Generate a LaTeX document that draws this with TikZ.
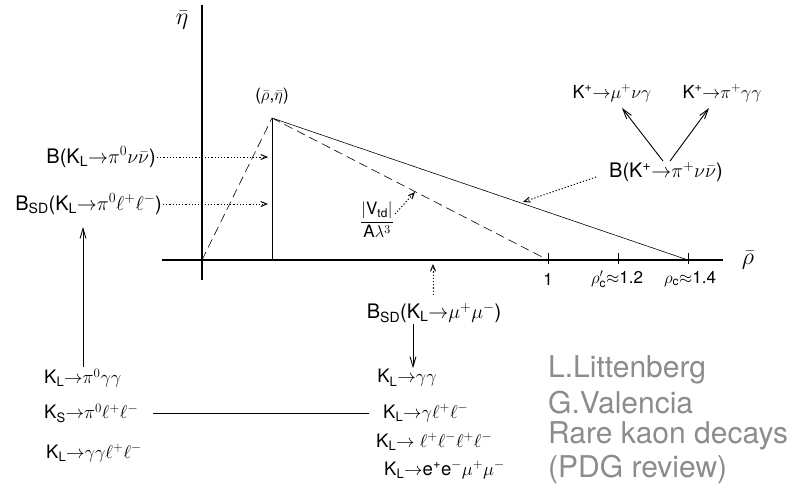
\RequirePackage{fix-cm}
\documentclass[tikz,border=0pt]{standalone}
\usepackage{amsmath}
\usepackage{fontspec}
\setmainfont{TeX Gyre Heros}
\usetikzlibrary{arrows.meta}
\newcommand{\kl}{K\textsubscript{L}}
\newcommand{\ks}{K\textsubscript{S}}
\newcommand{\kp}{K\textsuperscript{+}}
\newcommand{\bsd}{B\textsubscript{SD}}
\newcommand{\dk}{$\rightarrow$}
\begin{document}
\begin{tikzpicture}[x=1pt, y=-1pt,
    lbl/.style={font=\fontsize{20}{22}\selectfont, inner sep=1pt},
    sml/.style={font=\fontsize{18.5}{20}\selectfont, inner sep=1pt},
    tck/.style={font=\fontsize{17}{19}\selectfont, inner sep=1pt},
    ptr/.style={line width=1pt, dash pattern=on 1.2pt off 2pt, -{Straight Barb[length=6pt,width=5pt]}},
    arr/.style={line width=0.9pt, -{Straight Barb[length=10pt,width=6pt]}},
    credit/.style={font=\fontsize{30}{32}\selectfont, text=black!45, anchor=west, inner sep=0pt}]
  \useasboundingbox (0,0) rectangle (808,490);

  % unitarity triangle
  \coordinate (O) at (202,260);
  \coordinate (apex) at (272,118);
  \coordinate (foot) at (272,260);
  \coordinate (one) at (548,260);
  \coordinate (rc1) at (618,260);
  \coordinate (rc) at (688,260);

  \draw[line width=1.3pt] (202,5) -- (202,280);
  \draw[line width=1.8pt] (162,260) -- (723,260);
  \foreach \t in {one, rc1, rc}
    \draw[semithick] ([yshift=7pt]\t) -- ([yshift=-4pt]\t);
  \node[lbl, font=\fontsize{24}{26}\selectfont] (etaax) at (182,20) {$\bar\eta$};
  \node[lbl, font=\fontsize{24}{26}\selectfont] (rhoax) at (748,260) {$\bar\rho$};
  \node[tck] (lone) at (548,279) {1};
  \node[tck] (lrc1) at (617,279) {$\rho'_{\text{c}}{\approx}$1.2};
  \node[tck] (lrc) at (690,279) {$\rho_{\text{c}}{\approx}$1.4};

  \draw[semithick] (apex) -- (foot);
  \draw[semithick] (apex) -- (rc);
  \draw[semithick, dash pattern=on 9pt off 5pt] (O) -- (apex);
  \draw[semithick, dash pattern=on 9pt off 5pt] (apex) -- (one);
  \node[tck] (pe) at (272,96) {($\bar\rho$,$\bar\eta$)};

  % K_L side
  \node[lbl, anchor=east] (knu) at (157,157) {B(\kl\dk$\pi^0\nu\bar\nu$)};
  \node[lbl, anchor=east] (kpll) at (163,204) {\bsd(\kl\dk$\pi^0\ell^+\ell^-$)};
  \coordinate (knutip) at (268,157);
  \coordinate (kplltip) at (268,204);
  \draw[ptr] (knu.east) -- (knutip);
  \draw[ptr] (kpll.east) -- (kplltip);

  \node[tck] (vtd) at (377,220) {$\dfrac{|\text{V}_{\text{td}}|}{\text{A}\lambda^3}$};
  \coordinate (vtdtip) at (415,192);
  \draw[ptr] ([yshift=6pt]vtd.east) -- (vtdtip);

  % K+ side
  \node[lbl] (bkp) at (666,172) {B(\kp\dk$\pi^+\nu\bar\nu$)};
  \coordinate (bkptip) at (523,202);
  \draw[ptr] ([xshift=-12pt,yshift=-5pt]bkp.west) -- (bkptip);
  \node[lbl, font=\fontsize{18}{20}\selectfont] (kmu) at (612,93) {\kp\dk$\mu^+\nu\gamma$};
  \node[lbl, font=\fontsize{18}{20}\selectfont] (kgg) at (722,93) {\kp\dk$\pi^+\gamma\gamma$};
  \coordinate (kmutip) at (622,108);
  \coordinate (kggtip) at (709,108);
  \draw[arr] ([xshift=-3pt]bkp.north) -- (kmutip);
  \draw[arr] ([xshift=4pt]bkp.north) -- (kggtip);

  % long distance backgrounds
  \node[sml, anchor=west] (kpgg) at (43,378) {\kl\dk$\pi^0\gamma\gamma$};
  \node[sml, anchor=west] (kspll) at (43,413) {\ks\dk$\pi^0\ell^+\ell^-$};
  \node[sml, anchor=west] (kggll) at (45,453) {\kl\dk$\gamma\gamma\ell^+\ell^-$};
  \coordinate (bsdtip) at (83,227);
  \draw[arr] (kpgg.north -| bsdtip) -- (bsdtip);

  \node[lbl] (bmumu) at (434,313) {\bsd(\kl\dk$\mu^+\mu^-$)};
  \coordinate (mumutip) at (433,264);
  \draw[ptr, shorten <=7pt] (bmumu.north -| mumutip) -- (mumutip);
  \node[sml] (lgg) at (407,378) {\kl\dk$\gamma\gamma$};
  \node[sml, anchor=west] (lgll) at (382,413) {\kl\dk$\gamma\ell^+\ell^-$};
  \node[sml, anchor=west] (lllll) at (375,442) {\kl\dk\ $\ell^+\ell^-\ell^+\ell^-$};
  \node[sml, anchor=west] (leemm) at (383,470) {\kl\dk e\textsuperscript{+}e\textsuperscript{$-$}$\mu^+\mu^-$};
  \draw[arr] ([xshift=-21pt]bmumu.south) -- (lgg.north -| 413,0);
  \draw[semithick, shorten <=14pt, shorten >=13pt] (kspll.east) -- (lgll.west);

  % credits
  \node[credit] (c1) at (548,370) {L.Littenberg};
  \node[credit] (c2) at (548,403) {G.Valencia};
  \node[credit] (c3) at (548,436) {Rare kaon decays};
  \node[credit] (c4) at (548,469) {(PDG review)};
\end{tikzpicture}
\end{document}
